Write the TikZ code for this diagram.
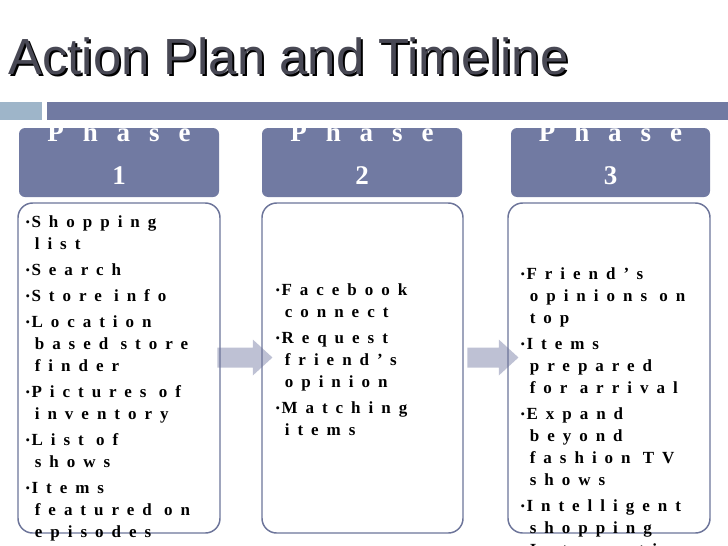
\documentclass[tikz,border=0pt]{standalone}
\usepackage{fontspec}
\setmainfont{Liberation Serif}
\newfontfamily\titlefont{Liberation Sans}
\newfontfamily\phasefont[LetterSpace=70]{Liberation Serif}
\newfontfamily\stepfont[LetterSpace=47]{Liberation Serif}
\usetikzlibrary{shapes.arrows}

\definecolor{phaseblue}{RGB}{113,122,162}
\definecolor{barlight}{RGB}{158,181,201}
\definecolor{boxline}{RGB}{108,116,153}
\definecolor{arrowgray}{RGB}{190,193,212}
\definecolor{titlegray}{RGB}{72,72,84}

\newcommand{\bul}{\makebox[4.5pt][l]{\raisebox{0.3pt}{\normalfont\fontsize{9.5}{9.5}\selectfont\textbullet}}}
\newcommand{\ind}{\hspace*{7pt}}

\tikzset{every picture/.style={line width=0.75pt}}
\tikzset{
  phasebox/.style={fill=phaseblue, rounded corners=4.5pt},
  listbox/.style={draw=boxline, line width=1.1pt, rounded corners=11pt},
  phasetext/.style={anchor=base, inner sep=0pt, align=center, text=white,
    font=\phasefont\bfseries\fontsize{20.25}{32.25}\selectfont},
  listtext/.style={anchor=base west, inner sep=0pt, align=left,
    font=\stepfont\bfseries\fontsize{12.75}{16.5}\selectfont},
  blockarrow/.style={single arrow, fill=arrowgray, inner xsep=0pt, inner ysep=7.125pt,
    single arrow head extend=6pt, single arrow tip angle=85, shape border rotate=0}
}

\begin{document}
\begin{tikzpicture}[x=0.75pt,y=0.75pt,yscale=-1,xscale=1]
\useasboundingbox (0,0) rectangle (728,546);

% Text Node
\draw (10,76) node [anchor=base west][inner sep=0pt] (shadow) {\titlefont\fontsize{38.1}{45}\selectfont\color{black}Action Plan and Timeline};
\draw (8,74) node [anchor=base west][inner sep=0pt] (title) {\titlefont\fontsize{38.1}{45}\selectfont\color{titlegray}Action Plan and Timeline};

% Shape: Rectangle
\fill [color=barlight] (0,102) rectangle (42,120);
\fill [color=phaseblue] (47,102) rectangle (728,120);

% Shape: Rectangle
\fill [phasebox] (19,128) rectangle (219,197);
\fill [phasebox] (262,128) rectangle (462,197);
\fill [phasebox] (511,128) rectangle (710,197);

% Text Node (base = last line)
\draw (119,184) node [phasetext] (phase1) {Phase\\1};
\draw (362,184) node [phasetext] (phase2) {Phase\\2};
\draw (610.5,184) node [phasetext] (phase3) {Phase\\3};

% Arrows
\draw (239.5,357.5) node [blockarrow, minimum height=41.25pt] (arrow1) {};
\draw (487.5,357.5) node [blockarrow, minimum height=38.25pt] (arrow2) {};

% Shape: Rectangle
\draw [listbox] (18,203) rectangle (220,533);
\draw [listbox] (262,203) rectangle (463,533);
\draw [listbox] (508,203) rectangle (710,533);

% Text Node (base = last line)
\draw (25,537) node [listtext] (list1) {\bul Shopping\\
\ind list\\[3pt]
\bul Search\\[3pt]
\bul Store info\\[3pt]
\bul Location\\
\ind based store\\
\ind finder\\[3pt]
\bul Pictures of\\
\ind inventory\\[3pt]
\bul List of\\
\ind shows\\[3pt]
\bul Items\\
\ind featured on\\
\ind episodes};

% Text Node
\draw (275,435) node [listtext] (list2) {\bul Facebook\\
\ind connect\\[3pt]
\bul Request\\
\ind friend’s\\
\ind opinion\\[3pt]
\bul Matching\\
\ind items};

% Text Node
\draw (520,555) node [listtext] (list3) {\bul Friend’s\\
\ind opinions on\\
\ind top\\[3pt]
\bul Items\\
\ind prepared\\
\ind for arrival\\[3pt]
\bul Expand\\
\ind beyond\\
\ind fashion TV\\
\ind shows\\[3pt]
\bul Intelligent\\
\ind shopping\\
\ind Interactive};
\end{tikzpicture}
\end{document}
